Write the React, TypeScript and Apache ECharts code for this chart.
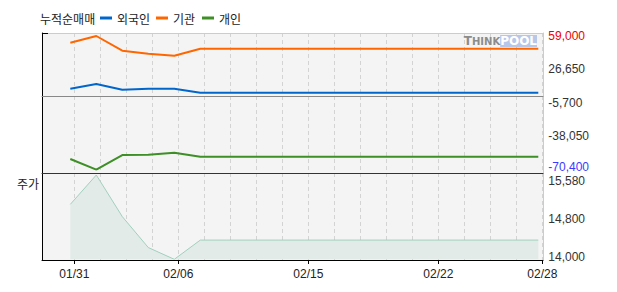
import React, { useEffect, useRef } from "react";
import * as echarts from "echarts";

const dates = ["01/31", "02/01", "02/02", "02/05", "02/06", "02/07", "02/08", "02/13", "02/14", "02/15", "02/16", "02/19", "02/20", "02/21", "02/22", "02/23", "02/26", "02/27", "02/28"];
const xTickLabels = ["01/31", "02/06", "02/15", "02/22", "02/28"];

const foreignNet = [8000, 12500, 7000, 8000, 8000, 4100, 4100, 4100, 4100, 4100, 4100, 4100, 4100, 4100, 4100, 4100, 4100, 4100, 4100];
const institutionNet = [52500, 59000, 44800, 41900, 39900, 46700, 46700, 46700, 46700, 46700, 46700, 46700, 46700, 46700, 46700, 46700, 46700, 46700, 46700];
const individualNet = [-60000, -70400, -56200, -55900, -53900, -57800, -57800, -57800, -57800, -57800, -57800, -57800, -57800, -57800, -57800, -57800, -57800, -57800, -57800];
const price = [15030, 15580, 14800, 14220, 14000, 14360, 14360, 14360, 14360, 14360, 14360, 14360, 14360, 14360, 14360, 14360, 14360, 14360, 14360];

const flowTicks = [59000, 26650, -5700, -38050, -70400];
const priceTicks = [15580, 14800, 14000];

const KR = "Noto Sans CJK KR";
const NUM = "Liberation Sans, Arial, sans-serif";
const fmt = (v: number) => Math.round(v).toLocaleString("en-US");

const hiddenAxis = (gridIndex: number, extra: any = {}) => ({
  type: "value",
  gridIndex,
  min: 0,
  max: 1,
  axisLabel: { show: false },
  axisTick: { show: false },
  splitLine: { show: false },
  ...extra,
});

const borderAxis = (gridIndex: number, position: string, color: string, extra: any = {}) =>
  hiddenAxis(gridIndex, {
    position,
    axisLine: { show: true, onZero: false, lineStyle: { color, width: 1 } },
    ...extra,
  });

export default function App() {
  const ref = useRef<HTMLDivElement>(null);
  useEffect(() => {
    if (!ref.current) return;
    const chart = echarts.init(ref.current, null, { renderer: "svg" });
    const dash = { color: "#d3d3d3", width: 1, type: [4, 3] };
    const legendBase = {
      top: 12,
      padding: 0,
      itemWidth: 12,
      itemHeight: 3,
      icon: "rect",
      selectedMode: false,
      textStyle: { fontSize: 12, color: "#222", fontFamily: KR },
    };
    const option: any = {
      animation: false,
      backgroundColor: "#ffffff",
      textStyle: { fontFamily: NUM },
      title: {
        text: "누적순매매",
        left: 40,
        top: 12,
        padding: 0,
        textStyle: { fontSize: 12, fontWeight: "normal", color: "#222", fontFamily: KR },
      },
      legend: [
        { ...legendBase, data: ["외국인"], left: 100 },
        { ...legendBase, data: ["기관"], left: 156 },
        { ...legendBase, data: ["개인"], left: 202 },
      ],
      graphic: [
        {
          type: "text",
          x: 39,
          y: 183,
          style: { text: "주가", align: "right", verticalAlign: "middle", font: `12px "${KR}"`, fill: "#222" },
        },
        {
          type: "text",
          x: 537,
          y: 41,
          z: 10,
          style: {
            text: "{t|T}{s|HINK}{p|POOL}",
            align: "right",
            verticalAlign: "middle",
            rich: {
              t: { fontFamily: "DejaVu Sans", fontWeight: "bold", fontSize: 12, fill: "#8c8c8c", lineHeight: 12 },
              s: { fontFamily: "DejaVu Sans", fontWeight: "bold", fontSize: 10, fill: "#8c8c8c", lineHeight: 12 },
              p: {
                fontFamily: "DejaVu Sans",
                fontWeight: "bold",
                fontSize: 12,
                fill: "#ffffff",
                backgroundColor: "#b6c7ea",
                lineHeight: 12,
              },
            },
          },
        },
      ],
      grid: [
        { left: 42, right: 74, top: 33, height: 63, show: true, backgroundColor: "#f4f4f4", borderWidth: 0 },
        { left: 42, right: 74, top: 96, height: 77, show: true, backgroundColor: "#f4f4f4", borderWidth: 0 },
        { left: 42, right: 74, top: 173, height: 87, show: true, backgroundColor: "#f4f4f4", borderWidth: 0 },
        { left: 74.3, right: 74.7, top: 33, height: 140 },
        { left: 74.3, right: 74.7, top: 173, height: 87 },
        { left: 70.3, right: 78.7, top: 36, height: 133.7 },
        { left: 70.3, right: 78.7, top: 175, height: 84.3 },
      ],
      xAxis: [
        borderAxis(0, "bottom", "#888"),
        borderAxis(0, "top", "#cccccc"),
        borderAxis(1, "bottom", "#333"),
        borderAxis(2, "bottom", "#000"),
        {
          type: "category",
          gridIndex: 3,
          data: dates,
          boundaryGap: false,
          axisLine: { show: false },
          axisTick: { show: false },
          axisLabel: { show: false },
          splitLine: { show: true, interval: 0, lineStyle: dash },
        },
        {
          type: "category",
          gridIndex: 4,
          data: dates,
          boundaryGap: false,
          axisLine: { show: false },
          axisTick: {
            show: true,
            length: 4,
            interval: (_i: number, v: string) => xTickLabels.includes(v),
            lineStyle: { color: "#000" },
          },
          axisLabel: {
            show: true,
            margin: 8,
            fontSize: 12,
            color: "#222",
            fontFamily: NUM,
            interval: (_i: number, v: string) => xTickLabels.includes(v),
          },
          splitLine: { show: true, interval: 0, lineStyle: dash },
        },
        { type: "category", gridIndex: 5, data: dates, boundaryGap: false, show: false },
        { type: "category", gridIndex: 6, data: dates, boundaryGap: false, show: false },
      ],
      yAxis: [
        borderAxis(0, "left", "#000", {
          axisTick: { show: true, inside: true, length: 6, customValues: [1], lineStyle: { color: "#000" } },
        }),
        borderAxis(0, "right", "#cccccc"),
        borderAxis(1, "left", "#000"),
        borderAxis(1, "right", "#cccccc"),
        borderAxis(2, "left", "#000"),
        borderAxis(2, "right", "#cccccc"),
        hiddenAxis(3, { show: false }),
        hiddenAxis(4, { show: false }),
        {
          type: "value",
          gridIndex: 5,
          position: "right",
          min: flowTicks[flowTicks.length - 1],
          max: flowTicks[0],
          axisLine: { show: false },
          axisTick: { show: false },
          splitLine: { show: false },
          axisLabel: {
            show: true,
            margin: 10,
            customValues: flowTicks,
            fontSize: 12,
            fontFamily: NUM,
            color: "#333",
            formatter: (v: number) => {
              if (v === flowTicks[0]) return `{r|${fmt(v)}}`;
              if (v === flowTicks[flowTicks.length - 1]) return `{b|${fmt(v)}}`;
              return `{n|${fmt(v)}}`;
            },
            rich: {
              r: { color: "#ee0000", fontSize: 12, fontFamily: NUM },
              b: { color: "#3b3bff", fontSize: 12, fontFamily: NUM, lineHeight: 10, padding: [0, 0, 6, 0] },
              n: { color: "#333", fontSize: 12, fontFamily: NUM },
            },
          },
        },
        {
          type: "value",
          gridIndex: 6,
          position: "right",
          min: priceTicks[priceTicks.length - 1],
          max: priceTicks[0],
          axisLine: { show: false },
          axisTick: { show: false },
          splitLine: { show: false },
          axisLabel: {
            show: true,
            margin: 10,
            customValues: priceTicks,
            fontSize: 12,
            fontFamily: NUM,
            color: "#333",
            formatter: (v: number) => {
              if (v === priceTicks[0]) return `{t|${fmt(v)}}`;
              if (v === priceTicks[priceTicks.length - 1]) return `{d|${fmt(v)}}`;
              return `{m|${fmt(v)}}`;
            },
            rich: {
              t: { color: "#333", fontSize: 12, fontFamily: NUM, lineHeight: 10, padding: [12, 0, 0, 0] },
              m: { color: "#333", fontSize: 12, fontFamily: NUM, padding: [5, 0, 0, 0] },
              d: { color: "#333", fontSize: 12, fontFamily: NUM, padding: [0, 0, 4, 0] },
            },
          },
        },
      ],
      series: [
        {
          name: "외국인",
          type: "line",
          xAxisIndex: 6,
          yAxisIndex: 8,
          data: foreignNet,
          symbol: "none",
          lineStyle: { color: "#0066cc", width: 2 },
          itemStyle: { color: "#0066cc" },
          z: 3,
        },
        {
          name: "기관",
          type: "line",
          xAxisIndex: 6,
          yAxisIndex: 8,
          data: institutionNet,
          symbol: "none",
          lineStyle: { color: "#ff6600", width: 2 },
          itemStyle: { color: "#ff6600" },
          z: 3,
        },
        {
          name: "개인",
          type: "line",
          xAxisIndex: 6,
          yAxisIndex: 8,
          data: individualNet,
          symbol: "none",
          lineStyle: { color: "#3d8f26", width: 2 },
          itemStyle: { color: "#3d8f26" },
          z: 3,
        },
        {
          name: "주가",
          type: "line",
          xAxisIndex: 7,
          yAxisIndex: 9,
          data: price,
          symbol: "none",
          lineStyle: { color: "#a0d0bd", width: 1 },
          itemStyle: { color: "#a0d0bd" },
          areaStyle: { color: "#e2ebe8", origin: "start", opacity: 1 },
          z: 2,
        },
      ],
    };
    chart.setOption(option);
    return () => chart.dispose();
  }, []);
  return (
    <div
      ref={ref}
      style={{ position: "fixed", left: 0, top: 0, width: 617, height: 292, background: "#fff" }}
    />
  );
}
